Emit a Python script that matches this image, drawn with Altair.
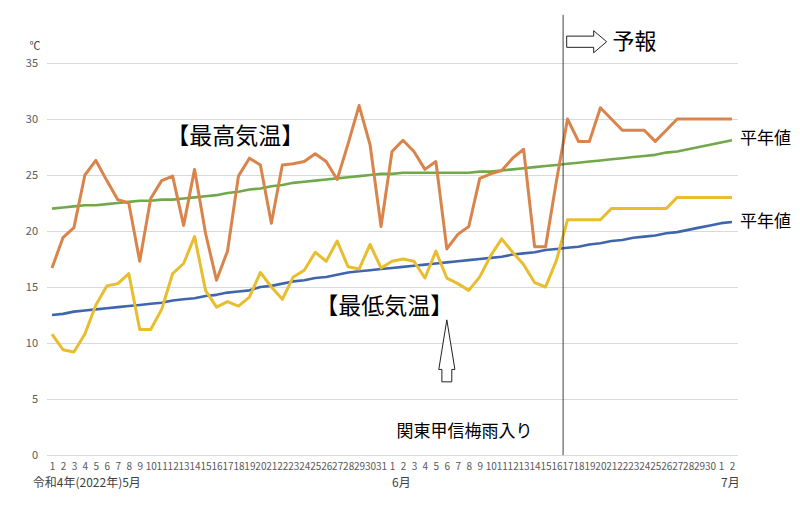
import altair as alt
import pandas as pd

# ---- data ----
day_labels = [str(d) for d in range(1, 32)] + [str(d) for d in range(1, 31)] + ["1", "2"]

max_temp = [16.7, 19.4, 20.3, 25.0, 26.3, 24.5, 22.8, 22.5, 17.3, 22.9,
            24.5, 24.9, 20.5, 25.5, 19.8, 15.6, 18.2, 24.9, 26.5, 25.9,
            20.7, 25.9, 26.0, 26.2, 26.9, 26.2, 24.6, 27.8, 31.2, 27.7,
            20.4,
            27.1, 28.1, 27.1, 25.5, 26.2, 18.4, 19.7, 20.4, 24.7, 25.1,
            25.4, 26.5, 27.3, 18.6, 18.6, 24.5, 30.0, 28.0, 28.0, 31.0,
            30.0, 29.0, 29.0, 29.0, 28.0, 29.0, 30.0, 30.0, 30.0, 30.0,
            30.0, 30.0]

min_temp = [10.8, 9.4, 9.2, 10.8, 13.4, 15.1, 15.3, 16.2, 11.2, 11.2,
            13.0, 16.2, 17.1, 19.5, 14.7, 13.2, 13.7, 13.3, 14.1, 16.3,
            15.0, 13.9, 15.9, 16.5, 18.1, 17.3, 19.1, 16.8, 16.6, 18.8,
            16.7,
            17.3, 17.5, 17.3, 15.8, 18.2, 15.8, 15.3, 14.7, 15.9, 17.8,
            19.3, 18.1, 17.0, 15.4, 15.0, 17.4, 21.0, 21.0, 21.0, 21.0,
            22.0, 22.0, 22.0, 22.0, 22.0, 22.0, 23.0, 23.0, 23.0, 23.0,
            23.0, 23.0]

normal_max = [22.0, 22.1, 22.2, 22.3, 22.3, 22.4, 22.5, 22.6, 22.7, 22.7,
              22.8, 22.8, 22.9, 23.0, 23.1, 23.2, 23.4, 23.5, 23.7, 23.8,
              24.0, 24.1, 24.3, 24.4, 24.5, 24.6, 24.7, 24.8, 24.9, 25.0,
              25.1,
              25.1, 25.2, 25.2, 25.2, 25.2, 25.2, 25.2, 25.2, 25.3, 25.3,
              25.4, 25.5, 25.6, 25.7, 25.8, 25.9, 26.0, 26.1, 26.2, 26.3,
              26.4, 26.5, 26.6, 26.7, 26.8, 27.0, 27.1, 27.3, 27.5, 27.7,
              27.9, 28.1]

normal_min = [12.5, 12.6, 12.8, 12.9, 13.0, 13.1, 13.2, 13.3, 13.4, 13.5,
              13.6, 13.8, 13.9, 14.0, 14.2, 14.3, 14.5, 14.6, 14.7, 15.0,
              15.1, 15.3, 15.5, 15.6, 15.8, 15.9, 16.1, 16.3, 16.4, 16.5,
              16.6,
              16.7, 16.8, 16.9, 17.0, 17.1, 17.2, 17.3, 17.4, 17.5, 17.6,
              17.7, 17.9, 18.0, 18.1, 18.3, 18.4, 18.5, 18.6, 18.8, 18.9,
              19.1, 19.2, 19.4, 19.5, 19.6, 19.8, 19.9, 20.1, 20.3, 20.5,
              20.7, 20.8]

y_ticks = [0, 5, 10, 15, 20, 25, 30, 35]
month_labels = ["令和4年(2022年)5月", "6月", "7月"]
month_start_idx = [-1.75, 31, 61]
forecast_start = 46.6

FONT = "Noto Sans CJK JP"
n = len(day_labels)
idx = list(range(n))

series = {
    "normal_max": (normal_max, "#70A84A", 2.6),
    "normal_min": (normal_min, "#3F66AC", 2.6),
    "min": (min_temp, "#E8BD2E", 3.0),
    "max": (max_temp, "#D9844B", 3.0),
}

label_expr = "[" + ",".join("'" + s + "'" for s in day_labels) + "][datum.value]"

xscale = alt.Scale(domain=[-0.5, n - 0.5], nice=False, zero=False)
yscale = alt.Scale(domain=[0, 35], nice=False, zero=True)

x_axis = alt.Axis(values=idx, labelExpr=label_expr, grid=False, ticks=False,
                  domain=False, labelFontSize=10, labelColor="#595959",
                  labelPadding=6, labelOverlap=False, labelBound=False,
                  labelFlush=False, title=None, labelFont=FONT)
y_axis = alt.Axis(values=y_ticks, grid=True, gridColor="#d9d9d9", ticks=False,
                  domain=False, labelFontSize=11, labelColor="#595959",
                  labelPadding=9, title=None, labelFont=FONT)


def X(field):
    return alt.X(field, scale=xscale, axis=x_axis)


def Y(field):
    return alt.Y(field, scale=yscale, axis=y_axis)


layers = []
for name, (vals, col, w) in series.items():
    df = pd.DataFrame({"x": idx, "y": vals})
    layers.append(alt.Chart(df).mark_line(color=col, strokeWidth=w, strokeJoin="round").encode(
        x=X("x:Q"), y=Y("y:Q")))

# forecast divider
rule_df = pd.DataFrame({"x": [forecast_start], "y": [0], "y2": [39.3]})
layers.append(alt.Chart(rule_df).mark_rule(color="#404040", strokeWidth=1).encode(
    x=X("x:Q"), y=Y("y:Q"), y2="y2:Q"))


def text_layer(df, size, color="#000000", align="center", dx=0, baseline="middle"):
    return alt.Chart(df).mark_text(font=FONT, fontSize=size, color=color, align=align,
                                   baseline=baseline, dx=dx).encode(
        x=X("x:Q"), y=Y("y:Q"), text="t:N")


# big titles
layers.append(text_layer(pd.DataFrame({"x": [16.7, 30.3], "y": [28.35, 13.2],
                                       "t": ["【最高気温】", "【最低気温】"]}), 23))
# 平年値 labels at line ends
layers.append(text_layer(pd.DataFrame({"x": [n - 1, n - 1], "y": [normal_max[-1] + 0.15, normal_min[-1]],
                                       "t": ["平年値", "平年値"]}), 17, align="left", dx=8))
# forecast text
layers.append(text_layer(pd.DataFrame({"x": [51.1], "y": [36.9], "t": ["予報"]}), 22, align="left"))
# rainy season text
layers.append(text_layer(pd.DataFrame({"x": [37.6], "y": [2.05], "t": ["関東甲信梅雨入り"]}), 17))
# degree unit
layers.append(text_layer(pd.DataFrame({"x": [-1.55], "y": [36.45], "t": ["℃"]}), 11, color="#404040"))
# month labels
layers.append(text_layer(pd.DataFrame({"x": month_start_idx, "y": [-2.5] * 3, "t": month_labels}),
                         12, color="#404040", align="left"))

# hollow arrows
right_arrow = "M-1,-0.28 L0.35,-0.28 L0.35,-0.55 L1,0 L0.35,0.55 L0.35,0.28 L-1,0.28 Z"
up_arrow = "M0,-1 L0.26,0.6 L0.16,0.6 L0.16,1 L-0.16,1 L-0.16,0.6 L-0.26,0.6 Z"
layers.append(alt.Chart(pd.DataFrame({"x": [48.75], "y": [36.9]})).mark_point(
    shape=right_arrow, size=1600, filled=True, fill="white", stroke="#222222", strokeWidth=1, opacity=1).encode(
    x=X("x:Q"), y=Y("y:Q")))
layers.append(alt.Chart(pd.DataFrame({"x": [36.0], "y": [9.3]})).mark_point(
    shape=up_arrow, size=3844, filled=True, fill="white", stroke="#222222", strokeWidth=1, opacity=1).encode(
    x=X("x:Q"), y=Y("y:Q")))

chart = alt.layer(*layers).properties(
    width=691, height=392,
    padding={"left": 38.5, "top": 55, "right": 54.5, "bottom": 36},
    autosize=alt.AutoSizeParams(type="none"),
).configure_view(stroke=None)

chart.save("out.html", embed_options={"renderer": "svg", "actions": False})
